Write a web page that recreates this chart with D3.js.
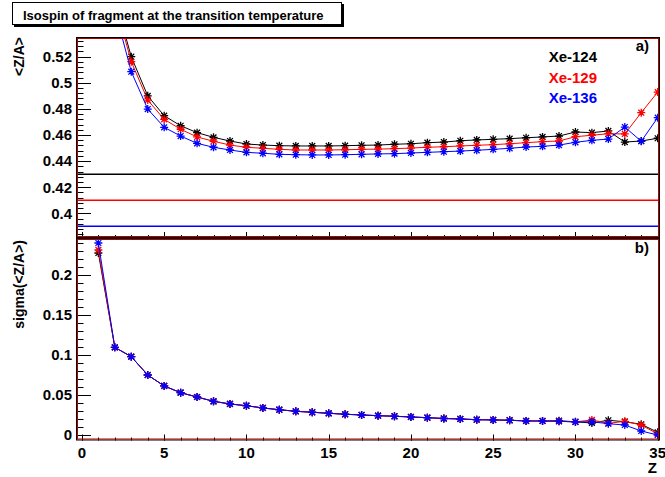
<!DOCTYPE html>
<html><head><meta charset="utf-8">
<script src="https://cdn.jsdelivr.net/npm/d3@7"></script>
<style>body{margin:0;background:#fff}svg{display:block}text{font-family:"Liberation Sans",Arial,Helvetica,sans-serif;font-weight:bold}</style>
</head><body>
<script>
const Z = d3.range(1, 36);
const seriesNames = ["Xe-124", "Xe-129", "Xe-136"];
const seriesColors = ["#000000", "#ff0000", "#0000ff"];
// top panel: <Z/A> vs Z
const za124 = [0.75,0.565,0.520,0.490,0.4748,0.4671,0.4618,0.4582,0.4554,0.4531,0.4523,0.4518,0.4516,0.4516,0.4516,0.4518,0.4521,0.4523,0.4529,0.4533,0.4541,0.4546,0.4556,0.4562,0.4567,0.4572,0.4579,0.4585,0.4592,0.4623,0.4618,0.4631,0.4546,0.4554,0.4575];
const za129 = [0.74,0.562,0.5162,0.4868,0.4720,0.4644,0.4585,0.4552,0.4523,0.4506,0.4498,0.4490,0.4485,0.4485,0.4485,0.4487,0.4490,0.4492,0.4495,0.4500,0.4506,0.4510,0.4516,0.4521,0.4526,0.4533,0.4541,0.4549,0.4554,0.4587,0.4598,0.4610,0.4608,0.4771,0.4929];
const za136 = [0.72,0.556,0.5085,0.4799,0.4659,0.4592,0.4536,0.4506,0.4485,0.4467,0.4460,0.4452,0.4449,0.4447,0.4447,0.4449,0.4452,0.4455,0.4457,0.4462,0.4467,0.4472,0.4477,0.4483,0.4490,0.4498,0.4508,0.4513,0.4523,0.4544,0.4559,0.4569,0.4661,0.4552,0.4733];
const refLines = [0.430, 0.410, 0.390];
// bottom panel: sigma(<Z/A>) vs Z
const sg124 = [0.2275,0.1096,0.0979,0.0750,0.0613,0.0529,0.0475,0.0421,0.0388,0.0366,0.0338,0.0316,0.0297,0.0285,0.0272,0.0260,0.0251,0.0242,0.0235,0.0226,0.0217,0.0207,0.0201,0.0192,0.0189,0.0185,0.0176,0.0176,0.0179,0.0165,0.0150,0.0184,0.0166,0.0134,0.0034];
const sg129 = [0.2313,0.1096,0.0979,0.0750,0.0613,0.0529,0.0475,0.0421,0.0388,0.0366,0.0338,0.0316,0.0296,0.0284,0.0271,0.0259,0.0250,0.0241,0.0234,0.0225,0.0216,0.0206,0.0200,0.0191,0.0188,0.0184,0.0175,0.0175,0.0172,0.0164,0.0188,0.0146,0.0171,0.0125,0.0013];
const sg136 = [0.2400,0.1096,0.0979,0.0750,0.0613,0.0529,0.0475,0.0421,0.0388,0.0366,0.0338,0.0316,0.0296,0.0284,0.0271,0.0259,0.0250,0.0241,0.0234,0.0225,0.0216,0.0206,0.0200,0.0191,0.0188,0.0184,0.0175,0.0175,0.0171,0.0163,0.0166,0.0141,0.0125,0.0050,0.0000];
const xTicks = [0,5,10,15,20,25,30,35];
const topTicks = [0.4,0.42,0.44,0.46,0.48,0.5,0.52];
const botTicks = [0,0.05,0.1,0.15,0.2];

const W = 665, H = 477;
const svg = d3.select("body").append("svg").attr("width", W).attr("height", H);
const L = 76, R = 660, T1 = 37, B1 = 238, T2 = 238, B2 = 440.5;
const x = d3.scaleLinear().domain([-0.36, 35.14]).range([L, R]);
const yTop = d3.scaleLinear().domain([0.38107, 0.5351]).range([B1, T1]);
const yBot = d3.scaleLinear().domain([-0.006875, 0.24625]).range([B2, T2]);

const defs = svg.append("defs");
defs.append("clipPath").attr("id","c1").append("rect").attr("x",L).attr("y",T1).attr("width",R-L).attr("height",B1-T1);
defs.append("clipPath").attr("id","c2").append("rect").attr("x",L).attr("y",T2).attr("width",R-L).attr("height",B2-T2);

const star = "M-4,0H4M0,-4V4M-2.9,-2.9L2.9,2.9M-2.9,2.9L2.9,-2.9";

function panel(y, yT, yB, ticks, minorStep, seriesArr, clipId, fmt, extra) {
  const g = svg.append("g");
  const d0 = y.domain();
  const minor = d3.range(Math.ceil(d0[0]/minorStep - 1e-6)*minorStep, d0[1], minorStep);
  g.selectAll(".ymin").data(minor).join("line")
    .attr("x1", L).attr("x2", L + 7.5).attr("y1", d => Math.round(y(d))+0.5).attr("y2", d => Math.round(y(d))+0.5)
    .attr("stroke", "#000").attr("stroke-width", 1);
  g.selectAll(".ymaj").data(ticks).join("line")
    .attr("x1", L).attr("x2", L + 15).attr("y1", d => Math.round(y(d))+0.5).attr("y2", d => Math.round(y(d))+0.5)
    .attr("stroke", "#000").attr("stroke-width", 1);
  g.selectAll(".ylab").data(ticks).join("text")
    .attr("x", L - 4).attr("y", d => y(d)).attr("dy", "0.36em")
    .attr("text-anchor", "end").attr("font-size", 15).text(fmt);
  g.selectAll(".xmin").data(d3.range(0, 36)).join("line")
    .attr("x1", d => Math.round(x(d))+0.5).attr("x2", d => Math.round(x(d))+0.5)
    .attr("y1", yB).attr("y2", yB - 3).attr("stroke", "#000");
  g.selectAll(".xmaj").data(xTicks).join("line")
    .attr("x1", d => Math.round(x(d))+0.5).attr("x2", d => Math.round(x(d))+0.5)
    .attr("y1", yB).attr("y2", yB - 6).attr("stroke", "#000");
  const dg = g.append("g").attr("clip-path", `url(#${clipId})`);
  if (extra) extra(dg);
  const line = d3.line().x((d,i) => x(Z[i])).y(d => y(d));
  seriesArr.forEach((vals, k) => {
    dg.append("path").attr("d", line(vals)).attr("fill", "none")
      .attr("stroke", seriesColors[k]).attr("stroke-width", 1);
    dg.selectAll(null).data(vals).join("path")
      .attr("transform", (d,i) => `translate(${x(Z[i])},${y(d)})`)
      .attr("d", star).attr("stroke", seriesColors[k]).attr("stroke-width", 1.3).attr("fill", "none");
  });
  g.append("rect").attr("x", L+0.5).attr("y", yT+0.5).attr("width", R-L-1).attr("height", yB-yT-1)
    .attr("fill", "none").attr("stroke", "#000").attr("stroke-width", 1);
  g.append("rect").attr("x", L+1.5).attr("y", yT+1.5).attr("width", R-L-3).attr("height", yB-yT-3)
    .attr("fill", "none").attr("stroke", "#b00000").attr("stroke-width", 1);
  return g;
}

const fmt = d => String(+d.toFixed(2));
panel(yTop, T1, B1, topTicks, 0.004, [za124, za129, za136], "c1", fmt, dg => {
  dg.selectAll(".ref").data(refLines).join("line")
    .attr("x1", L).attr("x2", R).attr("y1", d => yTop(d)).attr("y2", d => yTop(d))
    .attr("stroke", (d,i) => seriesColors[i]).attr("stroke-width", 1.5);
});
panel(yBot, T2, B2, botTicks, 0.01, [sg124, sg129, sg136], "c2", fmt);

svg.selectAll(".xlab").data(xTicks).join("text")
  .attr("x", d => x(d)).attr("y", 458).attr("text-anchor", "middle").attr("font-size", 15).text(d => d);
svg.append("text").attr("x", 657).attr("y", 473).attr("text-anchor", "end").attr("font-size", 15).text("Z");

svg.append("text").attr("transform", "translate(24,37) rotate(-90)").attr("text-anchor", "end")
  .attr("font-size", 14).text("<Z/A>");
svg.append("text").attr("transform", "translate(24,240) rotate(-90)").attr("text-anchor", "end")
  .attr("font-size", 14).text("sigma(<Z/A>)");

svg.append("text").attr("x", 649).attr("y", 51).attr("text-anchor", "end").attr("font-size", 15).text("a)");
svg.append("text").attr("x", 649).attr("y", 253).attr("text-anchor", "end").attr("font-size", 15).text("b)");

svg.selectAll(".leg").data(seriesNames).join("text")
  .attr("x", 597).attr("y", (d,i) => 62 + i*20.5).attr("text-anchor", "end")
  .attr("font-size", 15).attr("fill", (d,i) => seriesColors[i]).text(d => d);

svg.append("rect").attr("x", 14).attr("y", 4).attr("width", 330).attr("height", 23).attr("fill", "#000");
svg.append("rect").attr("x", 12.5).attr("y", 2.5).attr("width", 329).attr("height", 22).attr("fill", "#fff").attr("stroke", "#000");
svg.append("text").attr("x", 23).attr("y", 19.5).attr("font-size", 13).text("Isospin of fragment at the transition temperature");
</script>
</body></html>
